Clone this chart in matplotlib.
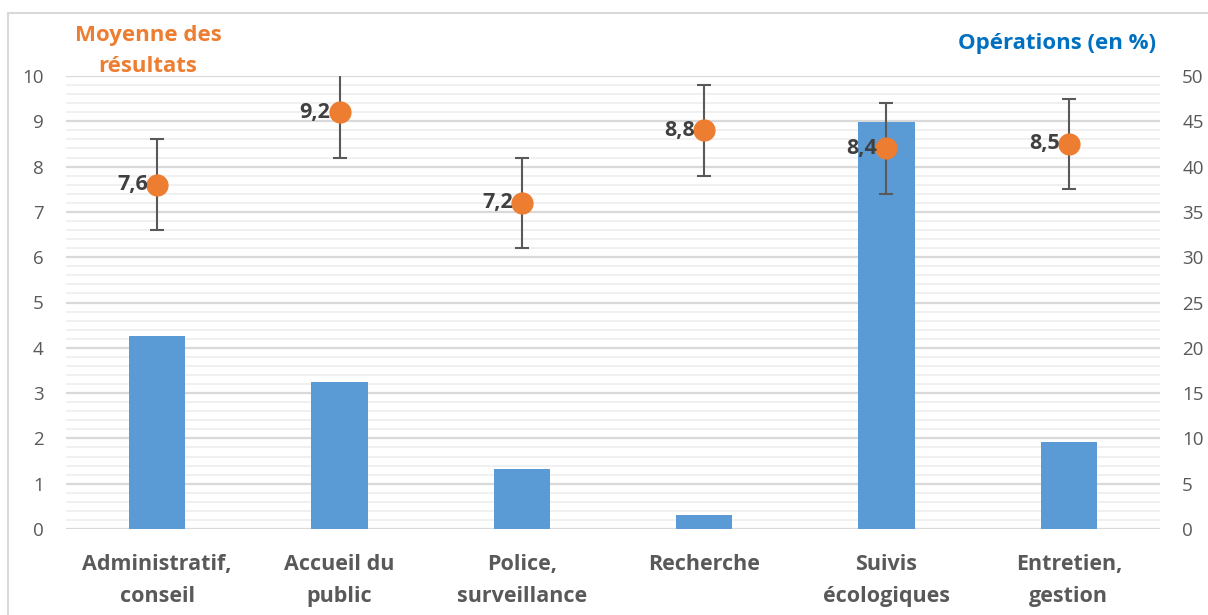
import numpy as np
import matplotlib
matplotlib.use("Agg")
import matplotlib.pyplot as plt
from matplotlib.patches import Rectangle
from matplotlib.ticker import MultipleLocator

plt.rcParams["font.family"] = ["Open Sans", "DejaVu Sans"]

# Data
categories = ["Administratif,\nconseil", "Accueil du\npublic", "Police,\nsurveillance",
              "Recherche", "Suivis\nécologiques", "Entretien,\ngestion"]
operations_pct = [21.3, 16.2, 6.6, 1.5, 44.9, 9.6]      # bars, right axis
mean_results = [7.6, 9.2, 7.2, 8.8, 8.4, 8.5]           # points, left axis
mean_labels = ["7,6", "9,2", "7,2", "8,8", "8,4", "8,5"]
error = [1.0, 1.0, 1.0, 1.0, 1.0, 1.0]

BAR_COLOR = "#5B9BD5"
DOT_COLOR = "#ED7D31"
TEXT_GREY = "#595959"

fig = plt.figure(figsize=(12.08, 6.15), dpi=100)
fig.patches.append(Rectangle((8 / 1208, -0.05), 1.1, 1 - 13 / 615 + 0.05,
                             transform=fig.transFigure, fill=False,
                             edgecolor="#D9D9D9", linewidth=1.5))

ax = fig.add_axes([66 / 1208, 1 - 529 / 615, (1160 - 66) / 1208, (529 - 76) / 615])
ax2 = ax.twinx()

x = np.arange(len(categories))

# bars on the base axes (drawn behind), showing their scale on the right
ax.bar(x, operations_pct, width=0.31, color=BAR_COLOR, zorder=3)
ax.set_ylim(0, 50)
ax.set_xlim(-0.5, len(categories) - 0.5)
ax.yaxis.set_major_locator(MultipleLocator(5))
ax.yaxis.set_minor_locator(MultipleLocator(1))
ax.grid(axis="y", which="major", color="#D9D9D9", linewidth=1.6, zorder=0)
ax.grid(axis="y", which="minor", color="#F0F0F0", linewidth=1.4, zorder=0)
ax.set_axisbelow(True)
ax.yaxis.tick_right()
ax.tick_params(axis="y", which="both", length=0, pad=16, labelsize=13.5, labelcolor=TEXT_GREY)
ax.set_xticks(x)
ax.set_xticklabels(categories, fontsize=15.5, fontweight="bold", color=TEXT_GREY, linespacing=1.7)
ax.tick_params(axis="x", length=0, pad=18)

# points with error bars on the twin axes, scale on the left
ax2.errorbar(x, mean_results, yerr=error, fmt="none", ecolor="#595959",
             elinewidth=1.5, capsize=5, capthick=1.5, zorder=4)
ax2.plot(x, mean_results, "o", color=DOT_COLOR, markersize=15, zorder=5)
for xi, yi, lab in zip(x, mean_results, mean_labels):
    ax2.text(xi - 0.05, yi, lab, ha="right", va="center", fontsize=15.5,
             fontweight="bold", color="#404040", zorder=6)
ax2.set_ylim(0, 10)
ax2.yaxis.set_major_locator(MultipleLocator(1))
ax2.yaxis.tick_left()
ax2.tick_params(axis="y", length=0, pad=16, labelsize=13.5, labelcolor=TEXT_GREY)

for a in (ax, ax2):
    for s in a.spines.values():
        s.set_visible(False)

fig.text(148 / 1208, 1 - 51 / 615, "Moyenne des\nrésultats", ha="center", va="center",
         fontsize=16, fontweight="bold", color=DOT_COLOR, linespacing=1.65)
fig.text(1057 / 1208, 1 - 43 / 615, "Opérations (en %)", ha="center", va="center",
         fontsize=16, fontweight="bold", color="#0070C0")

fig.savefig("out.png", dpi=100)
